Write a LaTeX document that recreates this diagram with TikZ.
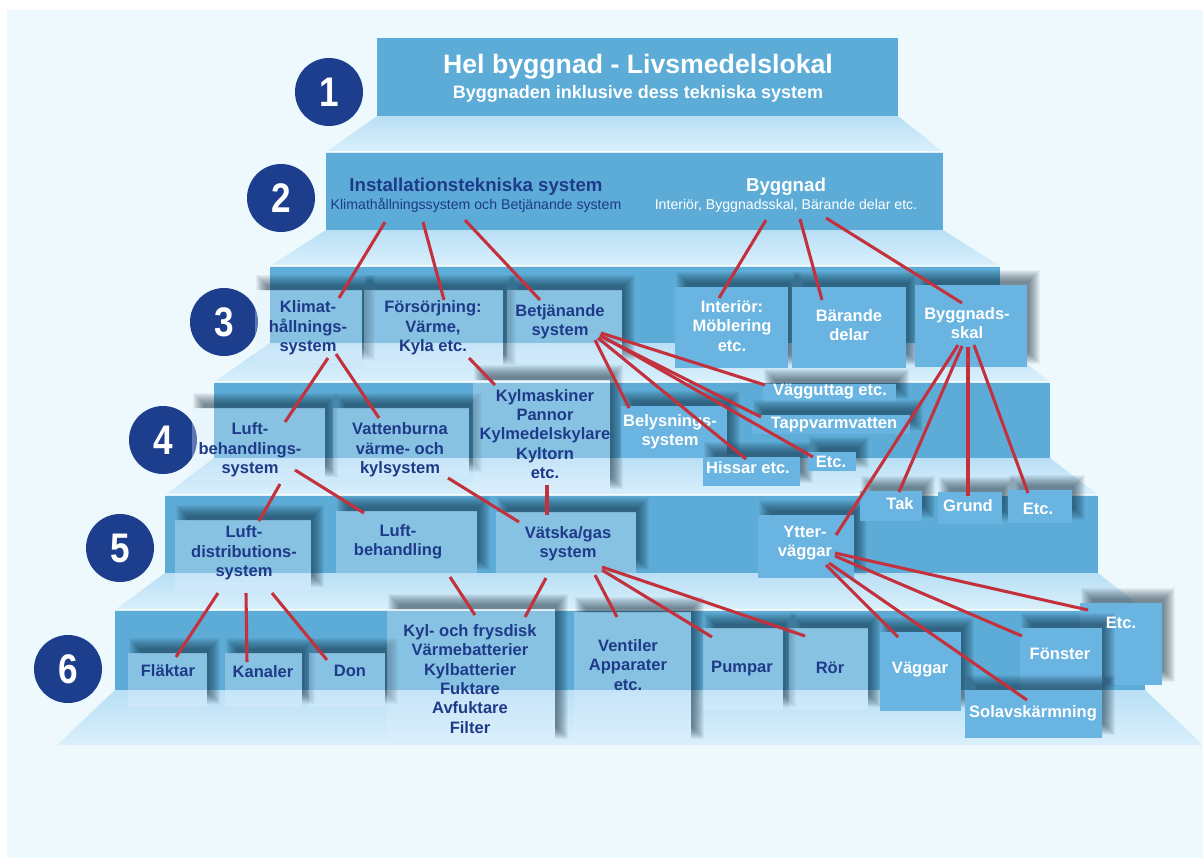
\documentclass[tikz,border=0pt]{standalone}
\usepackage{fontspec}
\setmainfont{Liberation Sans}
\newfontfamily\numfont[FakeStretch=0.85]{Liberation Sans}
\usetikzlibrary{fit}
\definecolor{bgc}{HTML}{EEF9FE}
\definecolor{band}{HTML}{5DACD7}
\definecolor{trapA}{HTML}{B9DFF5}
\definecolor{trapB}{HTML}{DAF0FC}
\definecolor{navy}{HTML}{1D3E8D}
\definecolor{txtD}{HTML}{1E3A88}
\definecolor{boxWc}{HTML}{6AB4E2}
\definecolor{boxDc}{HTML}{E2F1FF}
\definecolor{redline}{HTML}{C3323C}
\definecolor{shadc}{HTML}{0A2233}
\newcommand\shd[4]{%
  \begin{scope}
    \clip (-50,-50) -- (1300,-50) -- (1300,950) -- (-50,950) -- cycle
          (#1,#2) -- (#1,#4) -- (#3,#4) -- (#3,#2) -- cycle;
    \foreach \e in {-5,...,6}{
      \fill[shadc, opacity=0.055] ({#1+7-\e},{#2-9-\e}) rectangle ({#3+7+\e},{#4-9+\e});
    }
  \end{scope}}
\newcommand\bxD[5]{\shd{#2}{#3}{#4}{#5}\node[boxd, fit={(#2,#3) (#4,#5)}] (#1) {};}
\newcommand\bxW[5]{\shd{#2}{#3}{#4}{#5}\node[boxw, fit={(#2,#3) (#4,#5)}] (#1) {};}
\begin{document}
\begin{tikzpicture}[x=0.75pt, y=-0.75pt,
  trap/.style={top color=trapA, bottom color=trapB, draw=none},
  boxd/.style={rectangle, inner sep=0pt, fill=boxDc, fill opacity=0.32, draw=none},
  boxw/.style={rectangle, inner sep=0pt, fill=boxWc, draw=none},
  lblD/.style={text=txtD, font=\fontsize{12.4}{14.5}\selectfont\bfseries, align=center, inner sep=0pt},
  lblW/.style={lblD, text=white},
  numc/.style={circle, fill=navy, minimum size=51pt, inner sep=0pt, text=white,
    font=\numfont\fontsize{31}{31}\selectfont\bfseries},
  conn/.style={draw=redline, line width=2.3pt},
  topline/.style={white, opacity=0.8, line width=1.2pt}]
% background
\fill[white] (0,0) rectangle (1203,858);
\useasboundingbox (0,0) rectangle (1203,858);
\fill[bgc] (7,10) rectangle (1203,858);
% pyramid
\fill[band] (377,38) rectangle (898,116);
\path[trap] (377,116) -- (898,116) -- (943,152) -- (326,152) -- cycle;
\fill[band] (326,152) rectangle (943,230);
\path[trap] (326,230) -- (943,230) -- (1000,266) -- (270,266) -- cycle;
\fill[band] (270,266) rectangle (1000,343);
\path[trap] (270,343) -- (1000,343) -- (1050,382) -- (214,382) -- cycle;
\fill[band] (214,382) rectangle (1050,458);
\path[trap] (214,458) -- (1050,458) -- (1098,495) -- (165,495) -- cycle;
\fill[band] (165,495) rectangle (1098,573);
\path[trap] (165,573) -- (1098,573) -- (1145,610) -- (115,610) -- cycle;
\fill[band] (115,610) rectangle (1145,690);
\path[trap] (115,690) -- (1145,690) -- (1203,745) -- (57,745) -- cycle;
\draw[topline] (326,152) -- (943,152);
\draw[topline] (270,266) -- (1000,266);
\draw[topline] (214,382) -- (1050,382);
\draw[topline] (165,495) -- (1098,495);
\draw[topline] (115,610) -- (1145,610);
% level numbers
\node[numc] (n1) at (329,92) {1};
\node[numc] (n2) at (281,198) {2};
\node[numc] (n3) at (224,322) {3};
\node[numc] (n4) at (163,440) {4};
\node[numc] (n5) at (120,548) {5};
\node[numc] (n6) at (68,669) {6};
% level 1 and 2 texts
\node[text=white, font=\fontsize{20}{24}\selectfont\bfseries, inner sep=0pt] (title) at (638,67) {Hel byggnad - Livsmedelslokal};
\node[text=white, font=\fontsize{13.5}{16}\selectfont\bfseries, inner sep=0pt] (subtitle) at (638,94) {Byggnaden inklusive dess tekniska system};
\node[text=txtD, font=\fontsize{14}{16}\selectfont\bfseries, inner sep=0pt] (inst) at (476,187) {Installationstekniska system};
\node[text=txtD, font=\fontsize{10.6}{12}\selectfont, inner sep=0pt] (instsub) at (476,205) {Klimathållningssystem och Betjänande system};
\node[text=white, font=\fontsize{14}{16}\selectfont\bfseries, inner sep=0pt] (bygg) at (786,187) {Byggnad};
\node[text=white, font=\fontsize{10.6}{12}\selectfont, inner sep=0pt] (byggsub) at (786,206) {Interiör, Byggnadsskal, Bärande delar etc.};
% level 3 boxes
\bxD{klimatB}{255}{290}{362}{363}
\bxD{forsB}{364}{290}{503}{368}
\bxD{betjB}{507}{290}{622}{363}
\bxW{interB}{675}{287}{788}{368}
\bxW{barB}{792}{287}{906}{368}
\bxW{skalB}{915}{285}{1027}{367}
% level 4 boxes
\bxD{luftbB}{192}{408}{325}{480}
\bxD{vattB}{333}{408}{469}{475}
\bxD{kylmB}{473}{380}{610}{492}
\bxW{belyB}{621}{406}{727}{458}
\bxW{vaggB}{763}{384}{896}{402}
\bxW{tappB}{752}{415}{910}{434}
\bxW{hissB}{703}{457}{800}{486}
\bxW{etcfB}{808}{452}{856}{471}
% level 5 boxes
\bxD{luftdB}{175}{520}{311}{590}
\bxD{luftbhB}{336}{511}{477}{573}
\bxD{vatsB}{496}{512}{636}{573}
\bxW{ytterB}{758}{515}{854}{578}
\bxW{takB}{860}{491}{922}{521}
\bxW{grundB}{938}{492}{1002}{524}
\bxW{etcvB}{1008}{490}{1072}{523}
% level 6 boxes
\bxD{flaktB}{128}{653}{207}{707}
\bxD{kanalB}{225}{653}{302}{707}
\bxD{donB}{309}{653}{385}{707}
\bxD{kylB}{387}{609}{555}{742}
\bxD{ventB}{574}{612}{691}{742}
\bxD{pumpB}{703}{628}{783}{710}
\bxD{rorB}{789}{628}{868}{710}
\bxW{vaggarB}{880}{632}{961}{711}
\bxW{etcsB}{1080}{603}{1162}{685}
\bxW{fonB}{1020}{628}{1102}{690}
\bxW{solB}{965}{690}{1102}{738}
% labels level 3
\node[lblD] (klimat) at (308,328) {Klimat-\\hållnings-\\system};
\node[lblD] (fors) at (433,328) {Försörjning:\\Värme,\\Kyla etc.};
\node[lblD] (betj) at (560,322) {Betjänande\\system};
\node[lblW] (inter) at (732,326) {Interiör:\\Möblering\\etc.};
\node[lblW] (barande) at (849,325) {Bärande\\delar};
\node[lblW] (skal) at (967,323) {Byggnads-\\skal};
% labels level 4
\node[lblD] (luftb) at (250,450) {Luft-\\behandlings-\\system};
\node[lblD] (vatt) at (400,450) {Vattenburna\\värme- och\\kylsystem};
\node[lblD] (kylm) at (545,434) {Kylmaskiner\\Pannor\\Kylmedelskylare\\Kyltorn\\etc.};
\node[lblW] (bely) at (670,432) {Belysnings-\\system};
\node[lblW] (vagg) at (830,392) {Vägguttag etc.};
\node[lblW] (tapp) at (834,425) {Tappvarmvatten};
\node[lblW] (hiss) at (748,468) {Hissar etc.};
\node[lblW] (etcf) at (831,462) {Etc.};
% labels level 5
\node[lblD] (luftd) at (244,553) {Luft-\\distributions-\\system};
\node[lblD] (luftbh) at (398,542) {Luft-\\behandling};
\node[lblD] (vats) at (568,544) {Vätska/gas\\system};
\node[lblW] (ytter) at (805,543) {Ytter-\\väggar};
\node[lblW] (tak) at (900,504) {Tak};
\node[lblW] (grund) at (968,506) {Grund};
\node[lblW] (etcv) at (1038,509) {Etc.};
% labels level 6
\node[lblD] (flakt) at (168,671) {Fläktar};
\node[lblD] (kanal) at (263,672) {Kanaler};
\node[lblD] (don) at (350,671) {Don};
\node[lblD] (kyl) at (470,679) {Kyl- och frysdisk\\Värmebatterier\\Kylbatterier\\Fuktare\\Avfuktare\\Filter};
\node[lblD] (vent) at (628,665) {Ventiler\\Apparater\\etc.};
\node[lblD] (pump) at (742,669) {Pumpar};
\node[lblD] (ror) at (830,668) {Rör};
\node[lblW] (vaggar) at (920,670) {Väggar};
\node[lblW] (fon) at (1060,654) {Fönster};
\node[lblW] (etcs) at (1121,623) {Etc.};
\node[lblW] (sol) at (1033,713) {Solavskärmning};
% connector ports
\coordinate (a1) at (385,222); \coordinate (b1) at (339,298);
\coordinate (a2) at (423,222); \coordinate (b2) at (444,300);
\coordinate (a3) at (465,220); \coordinate (b3) at (540,300);
\coordinate (a4) at (766,220); \coordinate (b4) at (719,298);
\coordinate (a5) at (800,219); \coordinate (b5) at (822,300);
\coordinate (a6) at (826,218); \coordinate (b6) at (962,303);
\coordinate (a7) at (328,358); \coordinate (b7) at (285,422);
\coordinate (a8) at (336,354); \coordinate (b8) at (379,418);
\coordinate (a9) at (469,358); \coordinate (b9) at (495,385);
\coordinate (a10) at (595,340); \coordinate (b10) at (629,408);
\coordinate (a11) at (601,333); \coordinate (b11) at (765,385);
\coordinate (a12) at (600,336); \coordinate (b12) at (761,417);
\coordinate (a13) at (598,338); \coordinate (b13) at (746,459);
\coordinate (a14) at (600,335); \coordinate (b14) at (813,457);
\coordinate (a15) at (958,345); \coordinate (b15) at (836,535);
\coordinate (a16) at (962,346); \coordinate (b16) at (899,492);
\coordinate (a17) at (968,347); \coordinate (b17) at (968,496);
\coordinate (a18) at (974,345); \coordinate (b18) at (1028,493);
\coordinate (a19) at (280,484); \coordinate (b19) at (259,521);
\coordinate (a20) at (295,470); \coordinate (b20) at (364,513);
\coordinate (a21) at (448,478); \coordinate (b21) at (519,522);
\coordinate (a22) at (547,485); \coordinate (b22) at (547,515);
\coordinate (a23) at (218,593); \coordinate (b23) at (176,657);
\coordinate (a24) at (246,593); \coordinate (b24) at (247,662);
\coordinate (a25) at (272,593); \coordinate (b25) at (327,660);
\coordinate (a26) at (450,577); \coordinate (b26) at (475,615);
\coordinate (a27) at (546,578); \coordinate (b27) at (525,617);
\coordinate (a28) at (595,575); \coordinate (b28) at (617,617);
\coordinate (a29) at (602,570); \coordinate (b29) at (712,637);
\coordinate (a30) at (602,567); \coordinate (b30) at (805,636);
\coordinate (a31) at (835,553); \coordinate (b31) at (1088,610);
\coordinate (a32) at (835,556); \coordinate (b32) at (1022,636);
\coordinate (a33) at (829,563); \coordinate (b33) at (1027,700);
\coordinate (a34) at (826,565); \coordinate (b34) at (898,637);
\foreach \i in {1,...,34}{ \draw[conn] (a\i) -- (b\i); }
\end{tikzpicture}
\end{document}
